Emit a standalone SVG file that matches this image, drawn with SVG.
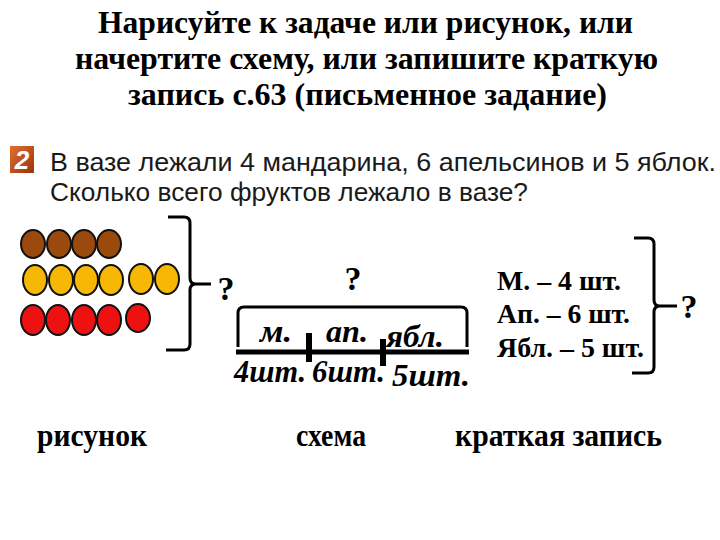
<svg xmlns="http://www.w3.org/2000/svg" width="720" height="540" viewBox="0 0 720 540">
<defs>
<style>
.t{font-family:"Liberation Serif","Times New Roman",serif;font-weight:bold;fill:#000}
.task{font-family:"Liberation Sans",Arial,sans-serif;fill:#1a1a1a;font-size:26px}
.it{font-family:"Liberation Serif","Times New Roman",serif;font-weight:bold;font-style:italic;font-size:31px;fill:#000}
.q{font-family:"Liberation Serif","Times New Roman",serif;font-weight:bold;font-size:34px;text-anchor:middle}
.br{fill:none;stroke:#000;stroke-width:3;stroke-linejoin:round;stroke-linecap:butt}
.f{stroke:#111;stroke-width:2}
.b{fill:#9a4a0c}.y{fill:#f7b705}.r{fill:#ee1111}
</style>
<linearGradient id="ig" x1="0" y1="0" x2="1" y2="1">
<stop offset="0" stop-color="#e0702e"/><stop offset="1" stop-color="#9a3410"/>
</linearGradient>
</defs>
<rect width="720" height="540" fill="#fff"/>
<g id="title" class="t" font-size="31">
<text x="98" y="33" textLength="535" lengthAdjust="spacingAndGlyphs">Нарисуйте к задаче или рисунок, или</text>
<text x="75" y="69" textLength="583" lengthAdjust="spacingAndGlyphs">начертите схему, или запишите краткую</text>
<text x="128" y="105" textLength="479" lengthAdjust="spacingAndGlyphs">запись с.63 (письменное задание)</text>
</g>
<g id="task">
<rect x="10" y="146" width="24" height="27" fill="url(#ig)"/>
<text x="22" y="169" font-family="Liberation Sans,Arial,sans-serif" font-weight="bold" font-style="italic" font-size="26" fill="#fff" text-anchor="middle">2</text>
<text class="task" x="50" y="171" textLength="666" lengthAdjust="spacingAndGlyphs">В вазе лежали 4 мандарина, 6 апельсинов и 5 яблок.</text>
<text class="task" x="50" y="201" textLength="478" lengthAdjust="spacingAndGlyphs">Сколько всего фруктов лежало в вазе?</text>
</g>
<g id="drawing">
<g class="f b">
<ellipse cx="33" cy="244" rx="12" ry="14"/><ellipse cx="59" cy="244" rx="12" ry="14"/><ellipse cx="84" cy="244" rx="12" ry="14"/><ellipse cx="109" cy="244" rx="12" ry="14"/>
</g>
<g class="f y">
<ellipse cx="35" cy="280" rx="12" ry="15"/><ellipse cx="61" cy="280" rx="12" ry="15"/><ellipse cx="86" cy="280" rx="12" ry="15"/><ellipse cx="111" cy="280" rx="12" ry="15"/><ellipse cx="141" cy="279" rx="12" ry="15"/><ellipse cx="167" cy="279" rx="12" ry="15"/>
</g>
<g class="f r">
<ellipse cx="33" cy="320" rx="12" ry="15"/><ellipse cx="58" cy="320" rx="12" ry="15"/><ellipse cx="84" cy="320" rx="12" ry="15"/><ellipse cx="109" cy="320" rx="12" ry="15"/><ellipse cx="138" cy="318" rx="12" ry="14"/>
</g>
<path class="br" d="M168,217 L184,217 Q190,217 190,223 L190,278 Q190,284 196,284 L211,284 M196,284 Q190,284 190,290 L190,344 Q190,350 184,350 L166,350"/>
<text class="q" x="226" y="300">?</text>
</g>
<g id="scheme">
<text class="q" x="353" y="290">?</text>
<path class="br" d="M238,347 L238,313 Q238,307 244,307 L461,307 Q467,307 467,313 L467,347"/>
<line x1="236" y1="352" x2="469" y2="352" stroke="#000" stroke-width="5"/>
<rect x="306" y="333" width="6" height="29" fill="#000"/>
<rect x="380" y="339" width="6" height="27" fill="#000"/>
<text class="it" x="260" y="342" textLength="32" lengthAdjust="spacingAndGlyphs">м.</text>
<text class="it" x="326" y="342" textLength="42" lengthAdjust="spacingAndGlyphs">ап.</text>
<text class="it" x="386" y="347" textLength="58" lengthAdjust="spacingAndGlyphs">ябл.</text>
<text class="it" x="234" y="382" textLength="72" lengthAdjust="spacingAndGlyphs">4шт.</text>
<text class="it" x="312" y="382" textLength="73" lengthAdjust="spacingAndGlyphs">6шт.</text>
<text class="it" x="392" y="386" textLength="78" lengthAdjust="spacingAndGlyphs">5шт.</text>
</g>
<g id="note">
<g class="t" font-size="27">
<text x="497" y="290" textLength="124" lengthAdjust="spacingAndGlyphs">М. – 4 шт.</text>
<text x="497" y="323" textLength="133" lengthAdjust="spacingAndGlyphs">Ап. – 6 шт.</text>
<text x="497" y="357" textLength="147" lengthAdjust="spacingAndGlyphs">Ябл. – 5 шт.</text>
</g>
<path class="br" d="M634,238 L648,238 Q654,238 654,244 L654,300 Q654,306 660,306 L677,306 M660,306 Q654,306 654,312 L654,367 Q654,373 648,373 L632,373"/>
<text class="q" x="689" y="318">?</text>
</g>
<g id="captions" class="t" font-size="32">
<text x="37" y="446" textLength="110" lengthAdjust="spacingAndGlyphs">рисунок</text>
<text x="296" y="446" textLength="70" lengthAdjust="spacingAndGlyphs">схема</text>
<text x="455" y="446" textLength="207" lengthAdjust="spacingAndGlyphs">краткая запись</text>
</g>
</svg>
